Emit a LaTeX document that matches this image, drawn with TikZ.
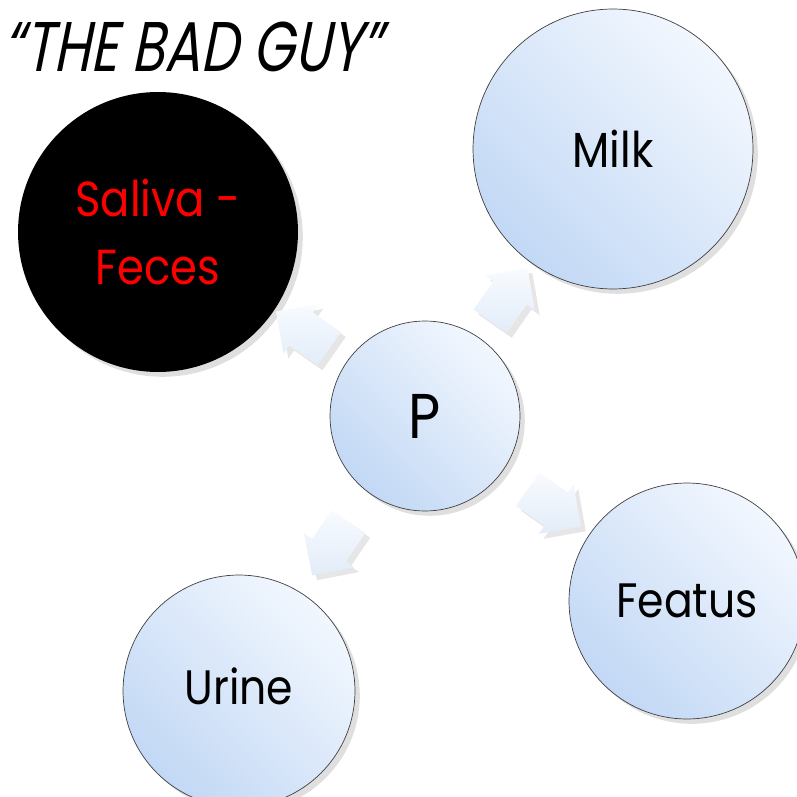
\documentclass[tikz,border=0pt]{standalone}
\usepackage{fontspec}
\setmainfont{Poppins}[FakeStretch=0.88]
\newfontfamily\titlefont[FakeSlant=0.2,FakeStretch=0.76]{Poppins}
\usetikzlibrary{shapes.arrows,shadows}
\definecolor{bublight}{HTML}{F2F7FE}
\definecolor{bubdark}{HTML}{C2D8F5}
\definecolor{arrlight}{HTML}{F8FBFF}
\definecolor{arrdark}{HTML}{E2ECF8}

\begin{document}
\begin{tikzpicture}[x=0.02cm, y=-0.02cm,
    bubble/.style={circle, draw=black!75, thin, top color=bublight, bottom color=bubdark,
      shading angle=-45, drop shadow={opacity=0.25}, inner sep=0pt,
      font=\fontsize{27.5}{33}\selectfont},
    outflow/.style={single arrow, minimum height=1.3cm, minimum width=1.2cm,
      single arrow head extend=0.2cm, inner xsep=0pt, inner ysep=0.4cm, top color=arrlight,
      bottom color=arrdark, drop shadow={opacity=0.2}}]
    \useasboundingbox (0,0) rectangle (796,797);

    % title
    \node[anchor=base east, inner sep=0pt, font=\titlefont\fontsize{40}{46}\selectfont] (title) at (382,72) {“THE BAD GUY”};

    % circles
    \node[bubble, minimum size=3.8cm, font=\fontsize{36}{40}\selectfont] (p) at (425,416) {P};
    \node[circle, fill=black, minimum size=5.6cm, inner sep=0pt, align=center, text=red,
      drop shadow={opacity=0.25}, font=\fontsize{28}{38.5}\selectfont] (saliva) at (158,232) {Saliva -\\Feces};
    \node[bubble, minimum size=5.6cm, font=\fontsize{28}{32}\selectfont] (milk) at (613,149) {Milk};
    \node[bubble, minimum size=4.72cm] (featus) at (687,601) {Featus};
    \node[bubble, minimum size=4.64cm] (urine) at (239,691) {\raisebox{5.5pt}{Urine}};

    % arrows out of P
    \node[outflow, rotate=145] (toSaliva) at (311,336) {};
    \node[outflow, rotate=55] (toMilk) at (503,303) {};
    \node[outflow, rotate=-35] (toFeatus) at (546,502) {};
    \node[outflow, rotate=-124] (toUrine) at (336,540) {};
\end{tikzpicture}
\end{document}
